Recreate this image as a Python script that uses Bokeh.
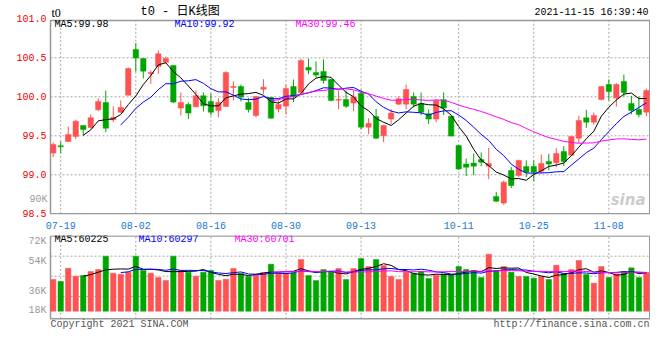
import numpy as np
from bokeh.plotting import figure
from bokeh.layouts import column
from bokeh.models import Range1d, FixedTicker, Label, NumeralTickFormatter
from bokeh.embed import file_html
from bokeh.resources import INLINE

# ---------------- data ----------------
dates = ["07-16", "07-19", "07-20", "07-21", "07-22", "07-23", "07-26", "07-27", "07-28", "07-29", "07-30",
         "08-02", "08-03", "08-04", "08-05", "08-06", "08-09", "08-10", "08-11", "08-12", "08-13",
         "08-16", "08-17", "08-18", "08-19", "08-20", "08-23", "08-24", "08-25", "08-26", "08-27",
         "08-30", "08-31", "09-01", "09-02", "09-03", "09-06", "09-07", "09-08", "09-09", "09-10",
         "09-13", "09-14", "09-15", "09-16", "09-17", "09-22", "09-23", "09-24",
         "09-27", "09-28", "09-29", "09-30", "10-08",
         "10-11", "10-12", "10-13", "10-14", "10-15", "10-18", "10-19", "10-20", "10-21", "10-22",
         "10-25", "10-26", "10-27", "10-28", "10-29", "11-01", "11-02", "11-03", "11-04", "11-05",
         "11-08", "11-09", "11-10", "11-11", "11-12", "11-15"]

opens = [99.278, 99.372, 99.427, 99.491, 99.632, 99.607, 99.833, 99.927, 99.705, 99.803,
         100.021, 100.607, 100.491, 100.295, 100.389, 100.444, 100.402, 99.855, 99.902, 99.872,
         100.013, 99.940, 99.825, 99.876, 100.120, 100.132, 99.927, 99.761, 100.098, 99.991,
         99.842, 99.880, 100.132, 100.056, 100.376, 100.312, 100.325, 100.222, 99.957, 99.966,
         99.919, 100.047, 99.611, 99.748, 99.500, 99.714, 99.906, 99.906, 100.004, 99.915,
         99.782, 99.714, 99.962, 99.752, 99.376, 99.137, 99.150, 99.197, 99.111, 98.722,
         98.637, 99.056, 98.991, 99.107, 99.107, 99.047, 99.171, 99.154, 99.299, 99.252,
         99.470, 99.731, 99.675, 99.966, 100.158, 99.983, 100.197, 99.915, 99.838, 99.803]

highs = [99.415, 99.427, 99.620, 99.705, 99.632, 99.774, 99.979, 100.081, 99.876, 99.953,
         100.376, 100.688, 100.491, 100.338, 100.594, 100.517, 100.402, 100.056, 99.927, 100.081,
         100.056, 100.043, 99.983, 100.325, 100.197, 100.158, 99.987, 100.009, 100.226, 100.000,
         99.953, 100.158, 100.222, 100.491, 100.491, 100.453, 100.479, 100.231, 100.081, 100.081,
         100.081, 100.090, 99.726, 99.846, 99.641, 99.842, 100.004, 100.158, 100.056, 100.056,
         99.838, 99.970, 100.056, 99.752, 99.376, 99.209, 99.274, 99.286, 99.346, 98.782,
         98.927, 99.098, 99.192, 99.184, 99.184, 99.261, 99.269, 99.342, 99.368, 99.491,
         99.756, 99.833, 99.799, 100.132, 100.222, 100.175, 100.286, 100.013, 100.004, 100.103]

lows = [99.226, 99.278, 99.419, 99.457, 99.500, 99.594, 99.816, 99.547, 99.675, 99.791,
        100.021, 100.321, 100.235, 100.167, 100.295, 100.432, 99.919, 99.761, 99.714, 99.868,
        99.812, 99.761, 99.739, 99.876, 99.953, 99.940, 99.799, 99.739, 100.038, 99.722,
        99.799, 99.774, 99.932, 100.056, 100.291, 100.248, 100.167, 99.940, 99.842, 99.855,
        99.816, 99.585, 99.521, 99.457, 99.419, 99.654, 99.893, 99.842, 99.863, 99.765,
        99.650, 99.675, 99.765, 99.496, 99.064, 98.983, 98.996, 99.111, 98.944, 98.650,
        98.615, 98.829, 98.970, 98.970, 98.919, 99.013, 99.056, 99.098, 99.111, 99.252,
        99.406, 99.603, 99.641, 99.953, 99.953, 99.876, 100.004, 99.774, 99.735, 99.752]

closes = [99.389, 99.359, 99.517, 99.688, 99.581, 99.731, 99.940, 99.598, 99.735, 99.863,
          100.363, 100.496, 100.329, 100.312, 100.551, 100.491, 99.932, 99.927, 99.791, 100.013,
          99.885, 99.803, 99.927, 100.312, 100.132, 99.996, 99.838, 100.004, 100.124, 99.726,
          99.902, 100.107, 100.004, 100.466, 100.342, 100.278, 100.209, 99.953, 99.966, 99.880,
          99.996, 99.611, 99.658, 99.470, 99.632, 99.791, 99.974, 100.094, 99.906, 99.803,
          99.714, 99.953, 99.855, 99.496, 99.073, 99.098, 99.111, 99.162, 99.145, 98.662,
          98.906, 98.863, 99.184, 99.034, 99.034, 99.145, 99.137, 99.274, 99.171, 99.491,
          99.697, 99.675, 99.761, 100.132, 100.068, 100.158, 100.056, 99.825, 99.774, 100.081]

volumes = [49500, 46400, 67200, 54700, 55700, 62000, 65100, 86000, 59400, 57800,
           61000, 86000, 63600, 59400, 52600, 47900, 86000, 63600, 61000, 54700,
           61000, 63600, 47900, 50000, 66700, 59400, 54200, 57800, 60400, 73500,
           58400, 59900, 59900, 80800, 55700, 47900, 65100, 62000, 66700, 49500,
           66700, 82300, 69800, 80800, 71400, 54200, 49500, 61000, 58900, 62000,
           51100, 56300, 58400, 57300, 69800, 65100, 63600, 52600, 89100, 63600,
           69800, 61000, 54200, 54200, 51600, 54200, 49500, 71900, 58900, 65100,
           79200, 57300, 43800, 69800, 52600, 58400, 62000, 67800, 52600, 60400]

date_tick_labels = ["07-19", "08-02", "08-16", "08-30", "09-13", "10-11", "10-25", "11-08"]
price_ticks = [98.5, 99.0, 99.5, 100.0, 100.5, 101.0]
vol_tick_labels = ["18K", "36K", "54K", "72K"]

title_text = "t0 - 日K线图"
stamp_text = "2021-11-15 16:39:40"
price_ma_texts = ["MA5:99.98", "MA10:99.92", "MA30:99.46"]
vol_ma_texts = ["MA5:60225", "MA10:60297", "MA30:60701"]

# ---------------- style / layout constants ----------------
RED = "#ff5252"
GREEN = "#00a600"
MA_COLORS = ["#000000", "#0000ff", "#ff00ff"]
MONO = "Liberation Mono"
GRID = "#a6a6a6"
BOX = "#999999"

X_RANGE = (-3.29, 79.545)          # frame spans the label gutter too
BOX_X = (-0.36, 79.45)             # visible chart box
PRICE_RANGE = (98.491, 101.2346)
PRICE_BOX = (98.5, 100.978)
VOL_RANGE = (-33292, 118319)
VOL_BOX = (-11879, 117538)
VOL_TICKS_POS = [1100, 31300, 78150, 118300]
VOL_GRID_POS = [23000, 54700, 86000]

n = len(closes)
idx = np.arange(n)
o = np.array(opens); c = np.array(closes); h = np.array(highs); l = np.array(lows)
v = np.array(volumes, dtype=float)
cols = [RED if cc >= oo else GREEN for oo, cc in zip(o, c)]


def moving_avg(a, w):
    out = np.full(len(a), np.nan)
    for i in range(w - 1, len(a)):
        out[i] = a[i - w + 1:i + 1].mean()
    return out


def lab(p, x, y, text, color, size="10px", font=MONO, align="left", style="normal"):
    p.add_layout(Label(x=x, y=y, x_units="screen", y_units="screen", text=text,
                       text_color=color, text_font_size=size, text_font=font,
                       text_align=align, text_baseline="middle", text_font_style=style))


def dotted_grid(p, xticks, yticks, ybox):
    # vertical lines at the date ticks, horizontal lines at the value ticks, kept inside the box
    p.segment(x0=xticks, y0=[ybox[0]] * len(xticks), x1=xticks, y1=[ybox[1]] * len(xticks),
              line_color=GRID, line_width=1, line_dash="2 2")
    p.segment(x0=[BOX_X[0]] * len(yticks), y0=yticks, x1=[BOX_X[1]] * len(yticks), y1=yticks,
              line_color=GRID, line_width=1, line_dash="2 2")
    # the gray chart box
    p.quad(left=[BOX_X[0]], right=[BOX_X[1]], bottom=[ybox[0]], top=[ybox[1]],
           fill_color=None, line_color=BOX, line_width=1.5)


def style_yaxis(ax, color):
    ax.axis_line_color = None
    ax.major_tick_line_color = None
    ax.minor_tick_line_color = None
    ax.major_tick_out = 0
    ax.major_label_text_font = MONO
    ax.major_label_text_font_size = "10px"
    ax.major_label_text_color = color
    ax.major_label_standoff = -18


xr = Range1d(*X_RANGE)
date_ticks = [dates.index(d) for d in date_tick_labels]

# ---------------- price pane ----------------
p1 = figure(width=650, height=235, x_range=xr, y_range=Range1d(*PRICE_RANGE),
            output_backend="svg", toolbar_location=None,
            min_border_left=28, min_border_right=0, min_border_top=0, min_border_bottom=21)
p1.outline_line_color = None
p1.xgrid.visible = False
p1.ygrid.visible = False
dotted_grid(p1, date_ticks, price_ticks[1:-1], PRICE_BOX)

p1.segment(x0=idx, y0=l, x1=idx, y1=h, color=cols, line_width=1)
p1.vbar(x=idx, top=np.maximum(o, c), bottom=np.minimum(o, c), width=0.72,
        fill_color=cols, line_color=cols, line_width=0.5)
for w, colr in zip([5, 10, 30], MA_COLORS):
    p1.line(idx, moving_avg(c, w), color=colr, line_width=1)

p1.yaxis.ticker = FixedTicker(ticks=price_ticks)
p1.yaxis.formatter = NumeralTickFormatter(format="0.0")
style_yaxis(p1.yaxis[0], "#ee0000")
p1.xaxis.ticker = FixedTicker(ticks=date_ticks)
p1.xaxis.major_label_overrides = {t: d for t, d in zip(date_ticks, date_tick_labels)}
p1.xaxis.major_label_text_color = "#1a78d4"
p1.xaxis.major_label_standoff = 7
p1.xaxis.axis_line_color = None
p1.xaxis.major_tick_line_color = None
p1.xaxis.minor_tick_line_color = None
p1.xaxis.major_tick_out = 0
p1.xaxis.major_label_text_font = MONO
p1.xaxis.major_label_text_font_size = "10px"

# texts (frame: left edge = 28 px, bottom edge = 214 px from top)
lab(p1, 23, 202, "t0", "#000000", size="12px", font="Liberation Serif")
lab(p1, 112, 203, title_text, "#000000", size="12px", font="Liberation Mono, Noto Sans CJK SC")
lab(p1, 620, 202, stamp_text, "#000000", align="right")
for x, t, colr in zip([26, 146, 267], price_ma_texts, MA_COLORS):
    lab(p1, x, 190, t, colr)
lab(p1, 19, 15, "90K", "#999999", align="right")
lab(p1, 617, 15, "sina", "#cccccc", size="15px", font="DejaVu Sans", style="bold italic", align="right")

# ---------------- volume pane ----------------
p2 = figure(width=650, height=97, x_range=xr, y_range=Range1d(*VOL_RANGE),
            output_backend="svg", toolbar_location=None, x_axis_location=None,
            min_border_left=28, min_border_right=0, min_border_top=0, min_border_bottom=0)
p2.outline_line_color = None
p2.xgrid.visible = False
p2.ygrid.visible = False
dotted_grid(p2, date_ticks, VOL_GRID_POS, VOL_BOX)
p2.vbar(x=idx, top=v, bottom=0, width=0.72, fill_color=cols, line_color=cols, line_width=0.5)
for w, colr in zip([5, 10, 30], MA_COLORS):
    p2.line(idx, moving_avg(v, w), color=colr, line_width=1)
p2.yaxis.ticker = FixedTicker(ticks=VOL_TICKS_POS)
p2.yaxis.major_label_overrides = {t: s for t, s in zip(VOL_TICKS_POS, vol_tick_labels)}
style_yaxis(p2.yaxis[0], "#999999")

# texts (frame: left edge = 28 px, bottom edge = 332 px from top)
for x, t, colr in zip([26, 110, 206], vol_ma_texts, MA_COLORS):
    lab(p2, x, 93.5, t, colr)
lab(p2, 22, 8, "Copyright 2021 SINA.COM", "#555555")
lab(p2, 621, 8, "http://finance.sina.com.cn", "#555555", align="right")

layout = column(p1, p2)
open("out.html", "w").write(file_html(layout, INLINE))
